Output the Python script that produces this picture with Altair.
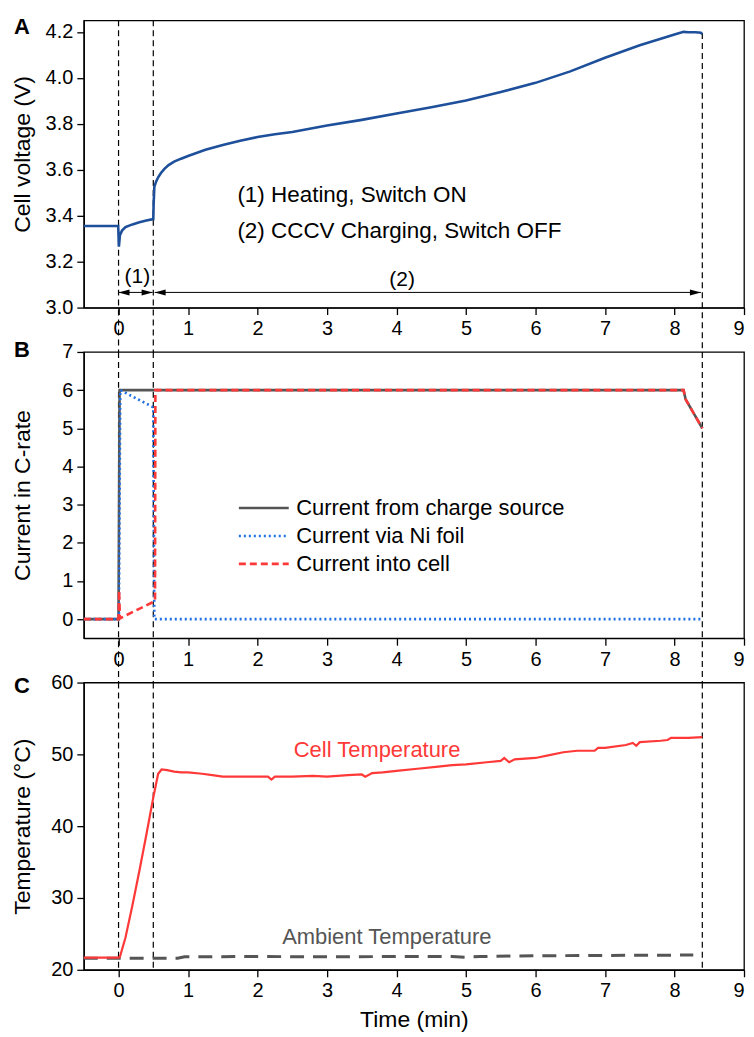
import altair as alt
import pandas as pd

# ---------------- data ----------------
# Panel A: cell voltage
volt_t = [-0.5, -0.005, 0.005, 0.02, 0.05, 0.1, 0.2, 0.3, 0.4, 0.5, 0.505, 0.515, 0.54, 0.57,
          0.61, 0.66, 0.72, 0.8, 0.9, 1.0, 1.25, 1.5, 1.75, 2.0, 2.25, 2.5, 3.0, 3.5, 4.0,
          4.5, 5.0, 5.5, 6.0, 6.5, 7.0, 7.5, 8.0, 8.13, 8.2, 8.3, 8.38, 8.4]
volt_v = [3.355, 3.355, 3.265, 3.315, 3.335, 3.35, 3.362, 3.371, 3.379, 3.385, 3.45, 3.525,
          3.548, 3.567, 3.586, 3.604, 3.62, 3.635, 3.648, 3.66, 3.687, 3.708, 3.726, 3.742,
          3.754, 3.764, 3.792, 3.817, 3.845, 3.872, 3.901, 3.938, 3.978, 4.028, 4.087, 4.142,
          4.188, 4.2, 4.198, 4.198, 4.196, 4.19]

# Panel B: currents (C-rate)
series_names = ["Current from charge source", "Current via Ni foil", "Current into cell"]
src_t = [-0.5, 0.0, 0.015, 8.13, 8.16, 8.4]
src_i = [0.0, 0.0, 6.0, 6.0, 5.76, 5.0]
foil_t = [-0.5, 0.005, 0.025, 0.5, 0.515, 8.38]
foil_i = [0.0, 0.0, 6.0, 5.55, 0.0, 0.0]
cell_t = [-0.5, 0.0, 0.008, 0.02, 0.5, 0.525, 0.53, 8.13, 8.16, 8.4]
cell_i = [0.0, 0.0, 0.75, 0.02, 0.45, 0.5, 6.0, 6.0, 5.76, 5.0]

# Panel C: temperatures
cellT_t = [-0.5, 0.0, 0.02, 0.1, 0.2, 0.3, 0.4, 0.5, 0.57, 0.62, 0.7, 0.8, 0.9, 1.0, 1.2,
           1.35, 1.5, 1.7, 2.0, 2.15, 2.2, 2.25, 2.5, 2.8, 3.0, 3.3, 3.5, 3.55, 3.65, 3.8,
           4.0, 4.3, 4.6, 4.8, 5.0, 5.3, 5.5, 5.55, 5.62, 5.7, 6.0, 6.2, 6.4, 6.6, 6.85,
           6.9, 7.0, 7.3, 7.4, 7.45, 7.5, 7.8, 7.9, 7.95, 8.2, 8.4]
cellT_v = [21.7, 21.7, 21.8, 24.5, 29.0, 33.8, 38.8, 44.0, 47.3, 47.9, 47.8, 47.6, 47.5,
           47.5, 47.3, 47.1, 46.9, 46.9, 46.9, 46.9, 46.5, 46.9, 46.9, 47.0, 46.9, 47.1,
           47.2, 46.9, 47.4, 47.5, 47.7, 48.0, 48.3, 48.5, 48.6, 48.9, 49.1, 49.5, 48.9,
           49.3, 49.5, 49.9, 50.3, 50.5, 50.5, 50.9, 50.9, 51.3, 51.6, 51.2, 51.7, 51.9,
           52.0, 52.3, 52.3, 52.4]
amb_t = [-0.5, 0.85, 0.95, 2.0, 3.0, 4.0, 4.8, 5.0, 5.2, 6.0, 7.0, 8.27]
amb_v = [21.6, 21.6, 21.8, 21.85, 21.8, 21.85, 21.85, 21.75, 21.85, 21.95, 22.0, 22.05]

# event markers (min)
event_t = [0.0, 0.5, 8.4]
arrow1 = [0.0, 0.49]
arrow2 = [0.52, 8.38]
arrow_y = 3.066

# axis tick values
x_ticks = [0.0, 0.5, 1.0, 1.5, 2.0, 2.5, 3.0, 3.5, 4.0, 4.5, 5.0, 5.5, 6.0, 6.5, 7.0, 7.5, 8.0, 8.5, 9.0]
ya_ticks = [3.0, 3.1, 3.2, 3.3, 3.4, 3.5, 3.6, 3.7, 3.8, 3.9, 4.0, 4.1, 4.2]
yb_ticks = [0.0, 0.5, 1.0, 1.5, 2.0, 2.5, 3.0, 3.5, 4.0, 4.5, 5.0, 5.5, 6.0, 6.5, 7.0]
yc_ticks = [20, 25, 30, 35, 40, 45, 50, 55, 60]

# ---------------- layout / style ----------------
FONT = "Liberation Sans"
W = 662
HA, HB, HC = 288, 287, 288
GAP = 44.5
MAJOR, MINOR = 7, 4
TITLE_X = -49

xscale = alt.Scale(domain=[-0.5, 9], nice=False, zero=False)

INT_TEST = "round(datum.value*2) % 2 === 0"
HALF_TEST = "round(datum.value*2) % 2 !== 0"


def x_axis(title=None):
    kw = dict(
        values=x_ticks,
        labelExpr=f"{INT_TEST} ? format(datum.value, 'd') : ''",
        labelPadding=4,
        labelFlush=True,
        labelOverlap=False,
        tickSize={"condition": {"test": HALF_TEST, "value": MINOR}, "value": MAJOR},
    )
    if title:
        kw.update(title=title, titlePadding=8)
    else:
        kw.update(title=None)
    return alt.Axis(**kw)


def y_axis(title, values, label_test, minor_test, h, fmt, title_y=None):
    return alt.Axis(
        values=values,
        title=title,
        labelExpr=f"{label_test} ? format(datum.value, '{fmt}') : ''",
        tickSize={"condition": {"test": minor_test, "value": MINOR}, "value": MAJOR},
        labelPadding=4,
        labelOverlap=False,
        titleX=TITLE_X,
        titleY=title_y if title_y is not None else h / 2,
        titleAngle=-90,
        titleAlign="center",
        titleBaseline="bottom",
    )


def vlines(h, top_vals, yscale, ext):
    df = pd.DataFrame({"t": event_t, "top": top_vals})
    return alt.Chart(df).mark_rule(color="black", strokeWidth=1.2, strokeDash=[6, 4]).encode(
        x=alt.X("t:Q", scale=xscale),
        y=alt.Y("top:Q", scale=yscale),
        y2=alt.value(h + ext),
    )


def letter(ch, dy):
    return alt.Chart(pd.DataFrame({"s": [ch]})).mark_text(
        align="left", baseline="middle", fontSize=22, fontWeight="bold", font=FONT, color="black"
    ).encode(text="s:N", x=alt.value(-70), y=alt.value(dy))


# ---------------- panel A ----------------
ysA = alt.Scale(domain=[3.0, 4.25], nice=False, zero=False)
dfA = pd.DataFrame({"t": volt_t, "v": volt_v})
lineA = alt.Chart(dfA).mark_line(color="#1d4f9a", strokeWidth=2.6).encode(
    x=alt.X("t:Q", scale=xscale, axis=x_axis()),
    y=alt.Y("v:Q", scale=ysA, axis=y_axis("Cell voltage (V)", ya_ticks,
                                          "round(datum.value*10) % 2 === 0",
                                          "round(datum.value*10) % 2 !== 0", HA, ".1f", 134)),
)
vA = vlines(HA, [4.25, 4.25, 4.195], ysA, GAP)
arr_df = pd.DataFrame({"a": [arrow1[0], arrow2[0]], "b": [arrow1[1], arrow2[1]],
                       "y": [arrow_y, arrow_y]})
arrowsA = alt.Chart(arr_df).mark_rule(color="black", strokeWidth=1).encode(
    x=alt.X("a:Q", scale=xscale), x2="b:Q", y=alt.Y("y:Q", scale=ysA))
head_r = pd.DataFrame({"t": [arrow1[1], arrow2[1]], "y": [arrow_y, arrow_y]})
head_l = pd.DataFrame({"t": [arrow1[0], arrow2[0]], "y": [arrow_y, arrow_y]})
headsR = alt.Chart(head_r).mark_point(shape="M0,0L-2,-0.55L-2,0.55Z", filled=True, size=121,
                                      color="black", opacity=1).encode(
    x=alt.X("t:Q", scale=xscale), y=alt.Y("y:Q", scale=ysA))
headsL = alt.Chart(head_l).mark_point(shape="M0,0L2,-0.55L2,0.55Z", filled=True, size=121,
                                      color="black", opacity=1).encode(
    x=alt.X("t:Q", scale=xscale), y=alt.Y("y:Q", scale=ysA))
lab_df = pd.DataFrame({"t": [0.27, 4.08], "y": [3.135, 3.12], "s": ["(1)", "(2)"]})
labsA = alt.Chart(lab_df).mark_text(fontSize=21, font=FONT, color="black", baseline="middle").encode(
    x=alt.X("t:Q", scale=xscale), y=alt.Y("y:Q", scale=ysA), text="s:N")
note_df = pd.DataFrame({"t": [1.71, 1.71], "y": [3.49, 3.334],
                        "s": ["(1) Heating, Switch ON", "(2) CCCV Charging, Switch OFF"]})
notesA = alt.Chart(note_df).mark_text(fontSize=22.5, font=FONT, color="black", align="left",
                                      baseline="middle").encode(
    x=alt.X("t:Q", scale=xscale), y=alt.Y("y:Q", scale=ysA), text="s:N")
panelA = alt.layer(vA, lineA, arrowsA, headsR, headsL, labsA, notesA, letter("A", 7)).properties(
    width=W, height=HA)

# ---------------- panel B ----------------
ysB = alt.Scale(domain=[-0.5, 7], nice=False, zero=False)
dfB = pd.concat([
    pd.DataFrame({"t": src_t, "i": src_i, "s": series_names[0], "o": range(len(src_t))}),
    pd.DataFrame({"t": foil_t, "i": foil_i, "s": series_names[1], "o": range(len(foil_t))}),
    pd.DataFrame({"t": cell_t, "i": cell_i, "s": series_names[2], "o": range(len(cell_t))}),
], ignore_index=True)
legB = alt.Legend(title=None, orient="none", legendX=169, legendY=145,
                  symbolType="M-2.5,0H2.5", symbolSize=400, symbolStrokeWidth=2.6,
                  labelFontSize=22, labelFont=FONT, labelColor="black", labelLimit=0,
                  rowPadding=5, padding=0, labelOffset=21)
lineB = alt.Chart(dfB).mark_line(strokeWidth=2.6).encode(
    x=alt.X("t:Q", scale=xscale, axis=x_axis()),
    y=alt.Y("i:Q", scale=ysB, axis=y_axis("Current in C-rate", yb_ticks, INT_TEST, HALF_TEST,
                                          HB, "d")),
    color=alt.Color("s:N", scale=alt.Scale(domain=series_names,
                                           range=["#555555", "#1f6fe5", "#ff3838"]), legend=legB),
    strokeDash=alt.StrokeDash("s:N", scale=alt.Scale(domain=series_names,
                                                     range=[[1, 0], [2, 3], [7, 4]]), legend=legB),
    order="o:Q",
)
vB = vlines(HB, [7, 7, 7], ysB, GAP)
panelB = alt.layer(vB, lineB, letter("B", -2)).properties(width=W, height=HB)

# ---------------- panel C ----------------
ysC = alt.Scale(domain=[20, 60], nice=False, zero=False)
dfCell = pd.DataFrame({"t": cellT_t, "v": cellT_v})
dfAmb = pd.DataFrame({"t": amb_t, "v": amb_v})
ambC = alt.Chart(dfAmb).mark_line(color="#555555", strokeWidth=3, strokeDash=[14, 9]).encode(
    x=alt.X("t:Q", scale=xscale, axis=x_axis("Time (min)")),
    y=alt.Y("v:Q", scale=ysC, axis=y_axis("Temperature (\u00b0C)", yc_ticks,
                                          "datum.value % 10 === 0", "datum.value % 10 !== 0",
                                          HC, "d")),
)
cellC = alt.Chart(dfCell).mark_line(color="#ff3838", strokeWidth=2.2).encode(
    x=alt.X("t:Q", scale=xscale), y=alt.Y("v:Q", scale=ysC))
txt_df = pd.DataFrame({"t": [3.72, 3.86], "y": [50.6, 24.6],
                       "s": ["Cell Temperature", "Ambient Temperature"]})
txtC = alt.Chart(txt_df).mark_text(fontSize=22, font=FONT, baseline="middle").encode(
    x=alt.X("t:Q", scale=xscale), y=alt.Y("y:Q", scale=ysC), text="s:N",
    color=alt.Color("s:N", scale=alt.Scale(domain=["Cell Temperature", "Ambient Temperature"],
                                           range=["#ff3838", "#555555"]), legend=None))
vC = vlines(HC, [60, 60, 60], ysC, 0)
panelC = alt.layer(vC, ambC, cellC, txtC, letter("C", 3)).properties(width=W, height=HC)

chart = alt.vconcat(panelA, panelB, panelC, spacing=GAP, bounds="flush").resolve_scale(
    color="independent", strokeDash="independent"
).properties(
    padding={"left": 3, "top": 6, "right": 0, "bottom": 0}
).configure_view(
    stroke="black", strokeWidth=1.3
).configure_axis(
    domainColor="black", domainWidth=1.3, tickColor="black", tickWidth=1.3,
    labelFont=FONT, labelFontSize=20, labelColor="black", grid=False,
    titleFont=FONT, titleFontSize=23, titleFontWeight="normal", titleColor="black",
).configure_text(font=FONT)

chart.save("out.html", embed_options={"renderer": "svg", "actions": False})
